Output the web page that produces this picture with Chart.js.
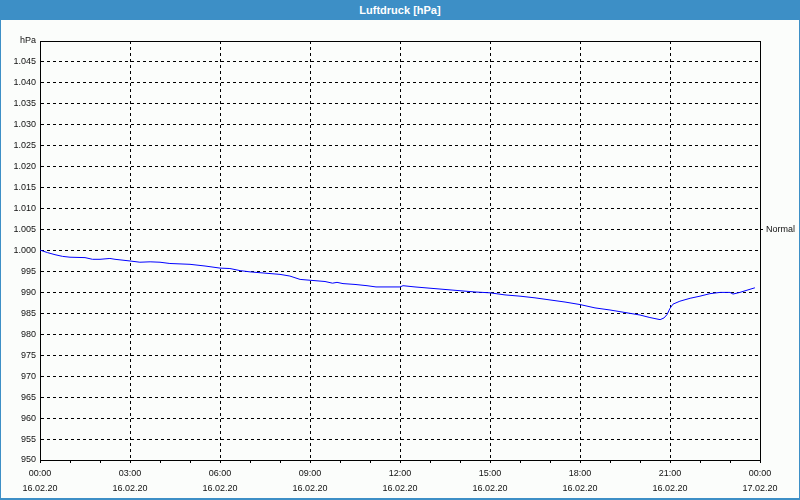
<!DOCTYPE html>
<html><head><meta charset="utf-8">
<script src="https://cdn.jsdelivr.net/npm/chart.js@4/dist/chart.umd.min.js"></script>
<style>
html,body{margin:0;padding:0;background:#fbfdfb;}
#wrap{position:relative;width:800px;height:500px;overflow:hidden;background:#fbfdfb}
#title{position:absolute;left:0;top:0;width:800px;height:20px;background:#3d8fc6;color:#fff;font:bold 11px "Liberation Sans",sans-serif;text-align:center;line-height:20px;z-index:2}
#frame{position:absolute;left:0;top:0;width:800px;height:500px;box-sizing:border-box;border:1px solid #3d8fc6;border-bottom-width:2px;pointer-events:none;z-index:3}
canvas{position:absolute;left:0;top:0}
</style></head>
<body>
<div id="wrap">
<div id="title">Luftdruck [hPa]</div>
<canvas id="c" width="800" height="500"></canvas>
<div id="frame"></div>
</div>
<script>
// Hours since 16.02.20 00:00
const hours = [0.0,0.25,0.5,0.75,1.0,1.5,1.75,2.0,2.33,2.5,3.0,3.33,3.67,4.0,4.33,5.0,5.5,6.0,6.33,6.67,7.0,7.5,8.0,8.33,8.67,9.0,9.5,9.75,9.9,10.1,10.5,10.9,11.2,12.0,12.1,12.5,13.0,13.5,14.0,14.5,15.0,15.5,16.0,16.5,17.0,17.5,18.0,18.5,19.0,19.5,20.0,20.33,20.67,20.8,20.9,21.0,21.1,21.33,21.67,22.0,22.33,22.67,23.0,23.1,23.33,23.6,23.83];
const pressure = [1000.1,999.5,999.0,998.6,998.4,998.3,997.9,997.9,998.1,997.9,997.5,997.2,997.3,997.2,996.9,996.7,996.3,995.8,995.7,995.2,994.9,994.6,994.3,993.9,993.1,992.9,992.6,992.2,992.4,992.1,991.9,991.6,991.3,991.3,991.6,991.3,991.0,990.7,990.4,990.1,989.9,989.4,989.1,988.7,988.2,987.7,987.1,986.3,985.8,985.2,984.6,984.0,983.5,983.9,984.7,986.2,987.2,987.9,988.6,989.1,989.7,990.0,990.0,989.6,990.0,990.6,991.1];
const timeTickLabels = ['00:00','03:00','06:00','09:00','12:00','15:00','18:00','21:00','00:00'];
const dateTickLabels = ['16.02.20','16.02.20','16.02.20','16.02.20','16.02.20','16.02.20','16.02.20','16.02.20','17.02.20'];
const yMin = 950, yMax = 1050, yStep = 5;
const yUnit = 'hPa';
const normalValue = 1005;
const normalLabel = 'Normal';

function fmtDE(v){
  if (v >= 1000) return Math.floor(v/1000) + '.' + String(v % 1000).padStart(3,'0');
  return String(v);
}

const boxPlugin = {
  id:'box',
  beforeDatasetsDraw(chart){
    const {ctx, chartArea:a} = chart;
    ctx.save();
    ctx.strokeStyle = '#000';
    ctx.lineWidth = 1;
    const l = Math.round(a.left), t = Math.round(a.top), r = Math.round(a.right), b = Math.round(a.bottom);
    ctx.strokeRect(l+0.5, t+0.5, r-l, b-t);
    ctx.restore();
  }
};

const font = {family:'"Liberation Sans", sans-serif', size:9};
const xFont = {family:'"Liberation Sans", sans-serif', size:9, lineHeight:'15px'};
const textColor = '#111';

new Chart(document.getElementById('c'), {
  type:'line',
  data:{datasets:[{
    data: hours.map((h,i)=>({x:h, y:pressure[i]})),
    borderColor:'#0000ff', borderWidth:1, pointRadius:0, tension:0, fill:false
  }]},
  options:{
    animation:false, responsive:false, devicePixelRatio:1,
    layout:{padding:{top:41,left:0,right:0,bottom:0}},
    plugins:{legend:{display:false}, tooltip:{enabled:false}, title:{display:false}},
    scales:{
      x:{
        type:'linear', min:0, max:24,
        afterFit(s){ s.height = 40; },
        ticks:{stepSize:1, autoSkip:false, maxRotation:0, minRotation:0, color:textColor, font:xFont, padding:3,
          callback(v){ return (v % 3 === 0) ? [timeTickLabels[v/3], dateTickLabels[v/3]] : ''; }},
        grid:{
          color(ctx){ return (ctx.tick && ctx.tick.value % 3 === 0) ? '#000' : 'rgba(0,0,0,0)'; },
          tickColor:'#000', tickLength:3, lineWidth:1, drawOnChartArea:true
        },
        border:{display:true, color:'#000', dash:[3,3]}
      },
      y:{
        type:'linear', min:yMin, max:yMax, position:'left',
        afterFit(s){ s.width = 40; },
        ticks:{stepSize:yStep, color:textColor, font, padding:4,
          callback(v){ return v === yMax ? yUnit : fmtDE(v); }},
        grid:{color:'#000', drawTicks:false, lineWidth:1},
        border:{display:true, color:'#000', dash:[3,3]}
      },
      y2:{
        type:'linear', min:yMin, max:yMax, position:'right',
        afterFit(s){ s.width = 40; },
        afterBuildTicks(s){ s.ticks = [{value:normalValue}]; },
        ticks:{color:textColor, font, padding:3, callback(){ return normalLabel; }},
        grid:{drawOnChartArea:false, tickColor:'#000', tickLength:3},
        border:{display:false}
      }
    }
  },
  plugins:[boxPlugin]
});
</script>
</body></html>
